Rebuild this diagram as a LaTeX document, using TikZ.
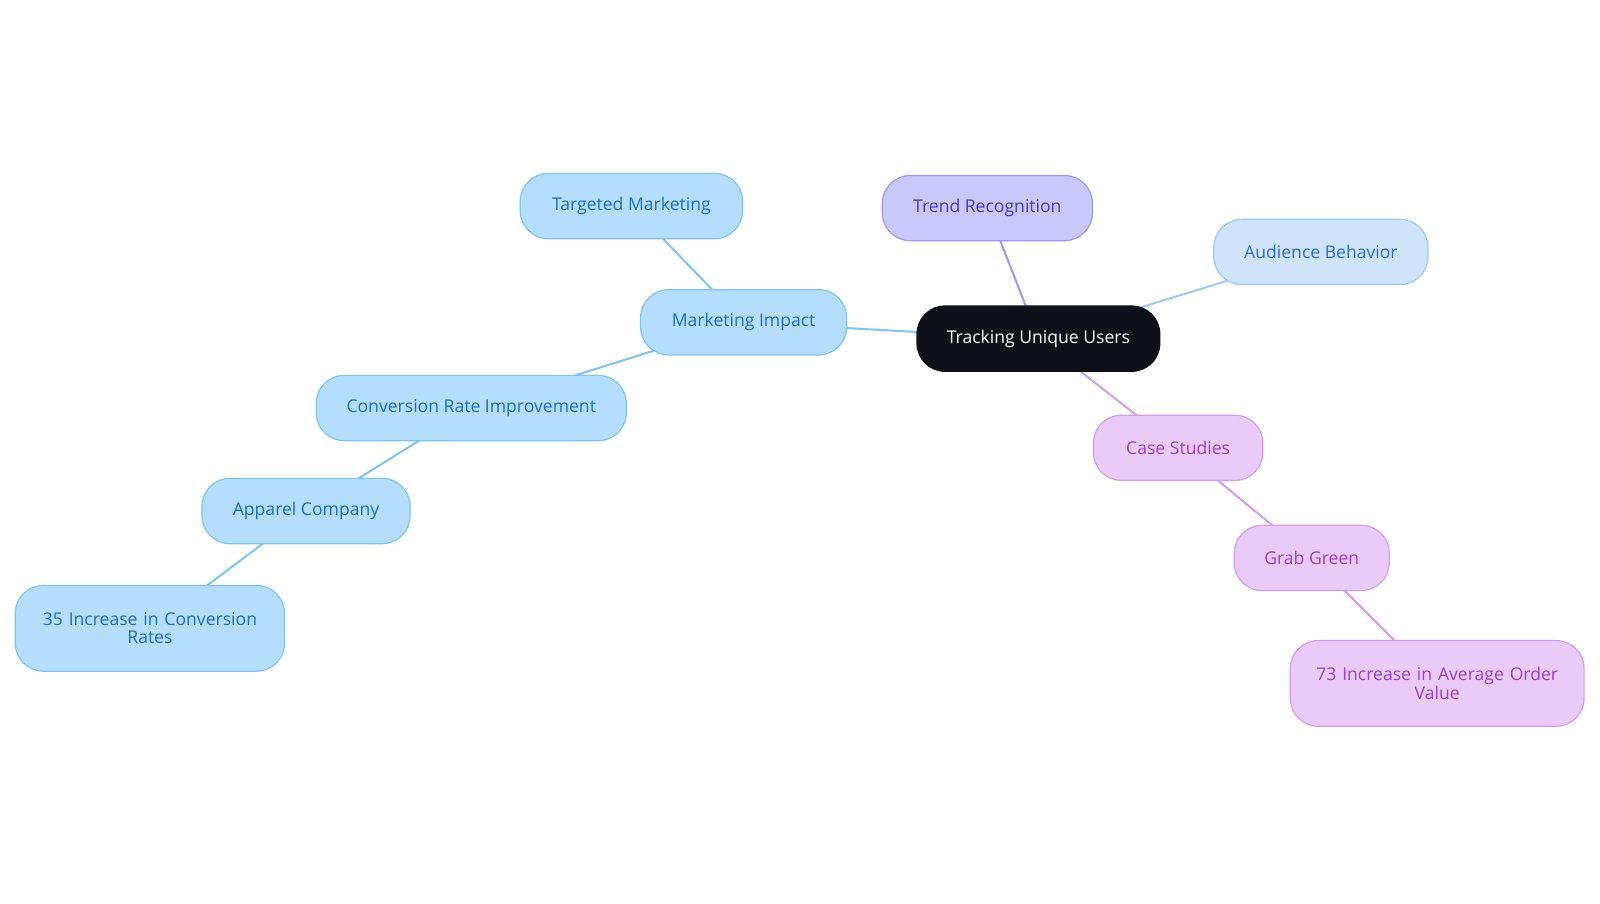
\documentclass[tikz,border=0pt]{standalone}
\usepackage{fontspec}
\setmainfont{Open Sans}
\usetikzlibrary{backgrounds}
\definecolor{bfill}{HTML}{B5DEFC}\definecolor{bdraw}{HTML}{7FC4F0}\definecolor{btext}{HTML}{1A6FC4}
\definecolor{pfill}{HTML}{C9C8FA}\definecolor{pdraw}{HTML}{9C99EE}\definecolor{ptext}{HTML}{3F3BC4}
\definecolor{afill}{HTML}{CFE3FB}\definecolor{adraw}{HTML}{A0C6F2}\definecolor{atext}{HTML}{2A6FD0}
\definecolor{vfill}{HTML}{EBCBFA}\definecolor{vdraw}{HTML}{D29CF0}\definecolor{vtext}{HTML}{9A3FD0}
\definecolor{root}{HTML}{0D1117}
\begin{document}
\begin{tikzpicture}[x=1bp,y=-1bp,scale=1.02,transform shape,
  box/.style={rounded corners=28bp,line width=1.2bp,align=center,inner sep=0pt,
    font=\fontsize{17.3}{19}\selectfont},
  blue/.style={box,fill=bfill,draw=bdraw,text=btext},
  purp/.style={box,fill=pfill,draw=pdraw,text=ptext},
  aud/.style={box,fill=afill,draw=adraw,text=atext},
  vio/.style={box,fill=vfill,draw=vdraw,text=vtext},
  e/.style={line width=2bp}]
\useasboundingbox (0,0) rectangle (1568.6,885.3);
\node[box,fill=root,draw=root,text=white,minimum width=238bp,minimum height=64bp] (r) at (1018,332) {Tracking Unique Users};
\node[blue,minimum width=202bp,minimum height=64bp] (mi) at (729,316) {Marketing Impact};
\node[blue,minimum width=218bp,minimum height=64bp] (tm) at (619,202) {Targeted Marketing};
\node[blue,minimum width=304bp,minimum height=64bp] (cr) at (462,400) {Conversion Rate Improvement};
\node[blue,minimum width=204bp,minimum height=64bp] (ac) at (300,501) {Apparel Company};
\node[blue,minimum width=264bp,minimum height=84bp,text width=240bp] (c35) at (147,616) {35 Increase in Conversion\\[-1pt]Rates};
\node[purp,minimum width=206bp,minimum height=64bp] (tr) at (968,204) {Trend Recognition};
\node[aud,minimum width=210bp,minimum height=64bp] (ab) at (1295,247) {Audience Behavior};
\node[vio,minimum width=166bp,minimum height=64bp] (cs) at (1155,439) {Case Studies};
\node[vio,minimum width=152bp,minimum height=64bp] (gg) at (1286,547) {Grab Green};
\node[vio,minimum width=288bp,minimum height=84bp,text width=270bp] (c73) at (1409,670) {73 Increase in Average Order\\[-1pt]Value};
\begin{pgfonlayer}{background}
\fill[white] (0,0) rectangle (1568.6,885.3);
\draw[e,bdraw] (r.center) -- (mi.center);
\draw[e,bdraw] (mi.center) -- (tm.center);
\draw[e,bdraw] (mi.center) -- (cr.center);
\draw[e,bdraw] (cr.center) -- (ac.center);
\draw[e,bdraw] (ac.center) -- (c35.center);
\draw[e,pdraw] (r.center) -- (tr.center);
\draw[e,adraw] (r.center) -- (ab.center);
\draw[e,vdraw] (r.center) -- (cs.center);
\draw[e,vdraw] (cs.center) -- (gg.center);
\draw[e,vdraw] (gg.center) -- (c73.center);
\end{pgfonlayer}
\end{tikzpicture}
\end{document}
